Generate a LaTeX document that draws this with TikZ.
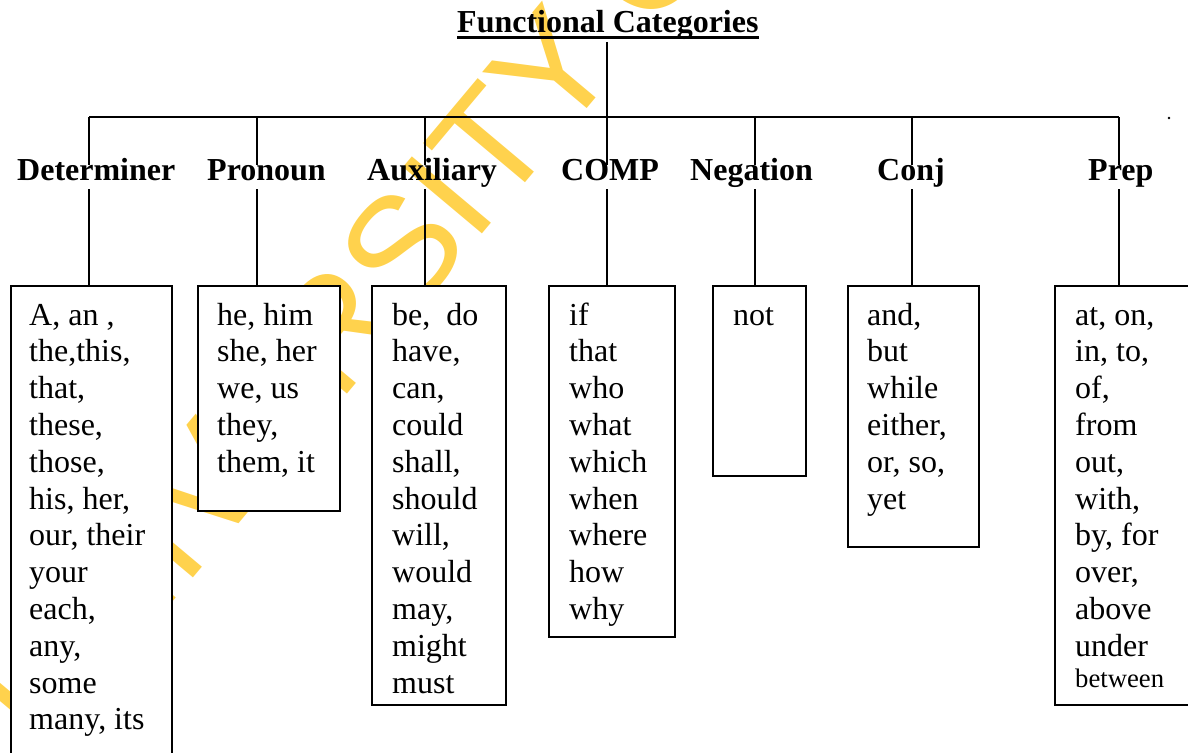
\documentclass[tikz,border=0pt]{standalone}
\usepackage{fontspec}
\setmainfont{Liberation Serif}
\newfontfamily\wmfamily{Liberation Sans}

\definecolor{wmyellow}{RGB}{255,210,77}

\begin{document}
\begin{tikzpicture}[x=1pt,y=-1pt,
  bodytext/.style={font=\fontsize{32}{36.8}\selectfont, inner sep=0pt, anchor=base west},
  heading/.style={font=\fontsize{32}{36.8}\selectfont\bfseries, inner sep=0pt, anchor=base west},
  wordbox/.style={draw, fill=white, line width=2pt, inner sep=0pt, anchor=north west},
  link/.style={line width=2pt},
]
\useasboundingbox (0,0) rectangle (1188,752);

% background watermark
\begin{scope}
\clip (0,0) rectangle (1188,752);
\node[rotate=50, anchor=base west, inner sep=0pt, text=wmyellow,
      font=\wmfamily\fontsize{150}{150}\selectfont] (wm) at (45,755)
      {UNIVERSITY OF CAPE COAST};
\end{scope}

% title
\node[heading] (title) at (457,33) {Functional Categories};
\draw[line width=3pt] ([yshift=-4.5pt]title.base west) -- ([yshift=-4.5pt]title.base east);

% category headings
\node[heading] (h1) at (17,180)   {Determiner};
\node[heading] (h2) at (207,180)  {Pronoun};
\node[heading] (h3) at (367,180)  {Auxiliary};
\node[heading] (h4) at (561,180)  {COMP};
\node[heading] (h5) at (690,180)  {Negation};
\node[heading] (h6) at (877,180)  {Conj};
\node[heading] (h7) at (1088,180) {Prep};

% word lists
\node[wordbox, minimum width=161pt, minimum height=500pt] (b1) at (10,285)   {};
\node[wordbox, minimum width=142pt, minimum height=225pt] (b2) at (197,285)  {};
\node[wordbox, minimum width=134pt, minimum height=419pt] (b3) at (371,285)  {};
\node[wordbox, minimum width=126pt, minimum height=351pt] (b4) at (548,285)  {};
\node[wordbox, minimum width=93pt,  minimum height=190pt] (b5) at (712,285)  {};
\node[wordbox, minimum width=131pt, minimum height=261pt] (b6) at (847,285)  {};
\node[wordbox, minimum width=160pt, minimum height=419pt] (b7) at (1054,285) {};

\node[bodytext] (w1) at (29,325) {\begin{tabular}[t]{@{}l@{}}
A, an ,\\ the,this,\\ that,\\ these,\\ those,\\ his, her,\\ our, their\\ your\\ each,\\ any,\\ some\\ many, its
\end{tabular}};
\node[bodytext] (w2) at (217,325) {\begin{tabular}[t]{@{}l@{}}
he, him\\ she, her\\ we, us\\ they,\\ them, it
\end{tabular}};
\node[bodytext] (w3) at (392,325) {\begin{tabular}[t]{@{}l@{}}
be,\ \ do\\ have,\\ can,\\ could\\ shall,\\ should\\ will,\\ would\\ may,\\ might\\ must
\end{tabular}};
\node[bodytext] (w4) at (569,325) {\begin{tabular}[t]{@{}l@{}}
if\\ that\\ who\\ what\\ which\\ when\\ where\\ how\\ why
\end{tabular}};
\node[bodytext] (w5) at (733,325) {not};
\node[bodytext] (w6) at (867,325) {\begin{tabular}[t]{@{}l@{}}
and,\\ but\\ while\\ either,\\ or, so,\\ yet
\end{tabular}};
\node[bodytext] (w7) at (1075,325) {\begin{tabular}[t]{@{}l@{}}
at, on,\\ in, to,\\ of,\\ from\\ out,\\ with,\\ by, for\\ over,\\ above\\ under\\[-6pt]
{\fontsize{26.7}{30.7}\selectfont between}
\end{tabular}};

% tree connectors
\coordinate (tb) at (607,42);
\coordinate (jt) at (607,117);
\coordinate (j1) at (89,117);
\coordinate (j2) at (257,117);
\coordinate (j3) at (425,117);
\coordinate (j5) at (755,117);
\coordinate (j6) at (912,117);
\coordinate (j7) at (1119,117);

\draw[link] (j1) -- (j7);
\draw[link] (tb) -- (jt) -- ++(0,48);
\foreach \j in {j1,j2,j3,j5,j6,j7} \draw[link] (\j) -- ++(0,48);

\draw[link] (b1.north -| j1) -- ++(0,-96);
\draw[link] (b2.north -| j2) -- ++(0,-96);
\draw[link] (b3.north -| j3) -- ++(0,-96);
\draw[link] (b4.north -| jt) -- ++(0,-96);
\draw[link] (b5.north -| j5) -- ++(0,-96);
\draw[link] (b6.north -| j6) -- ++(0,-96);
\draw[link] (b7.north -| j7) -- ++(0,-96);

% stray mark at the right end of the bar
\node[circle, fill, inner sep=0.9pt] (dot) at (1169,118) {};
\end{tikzpicture}
\end{document}
